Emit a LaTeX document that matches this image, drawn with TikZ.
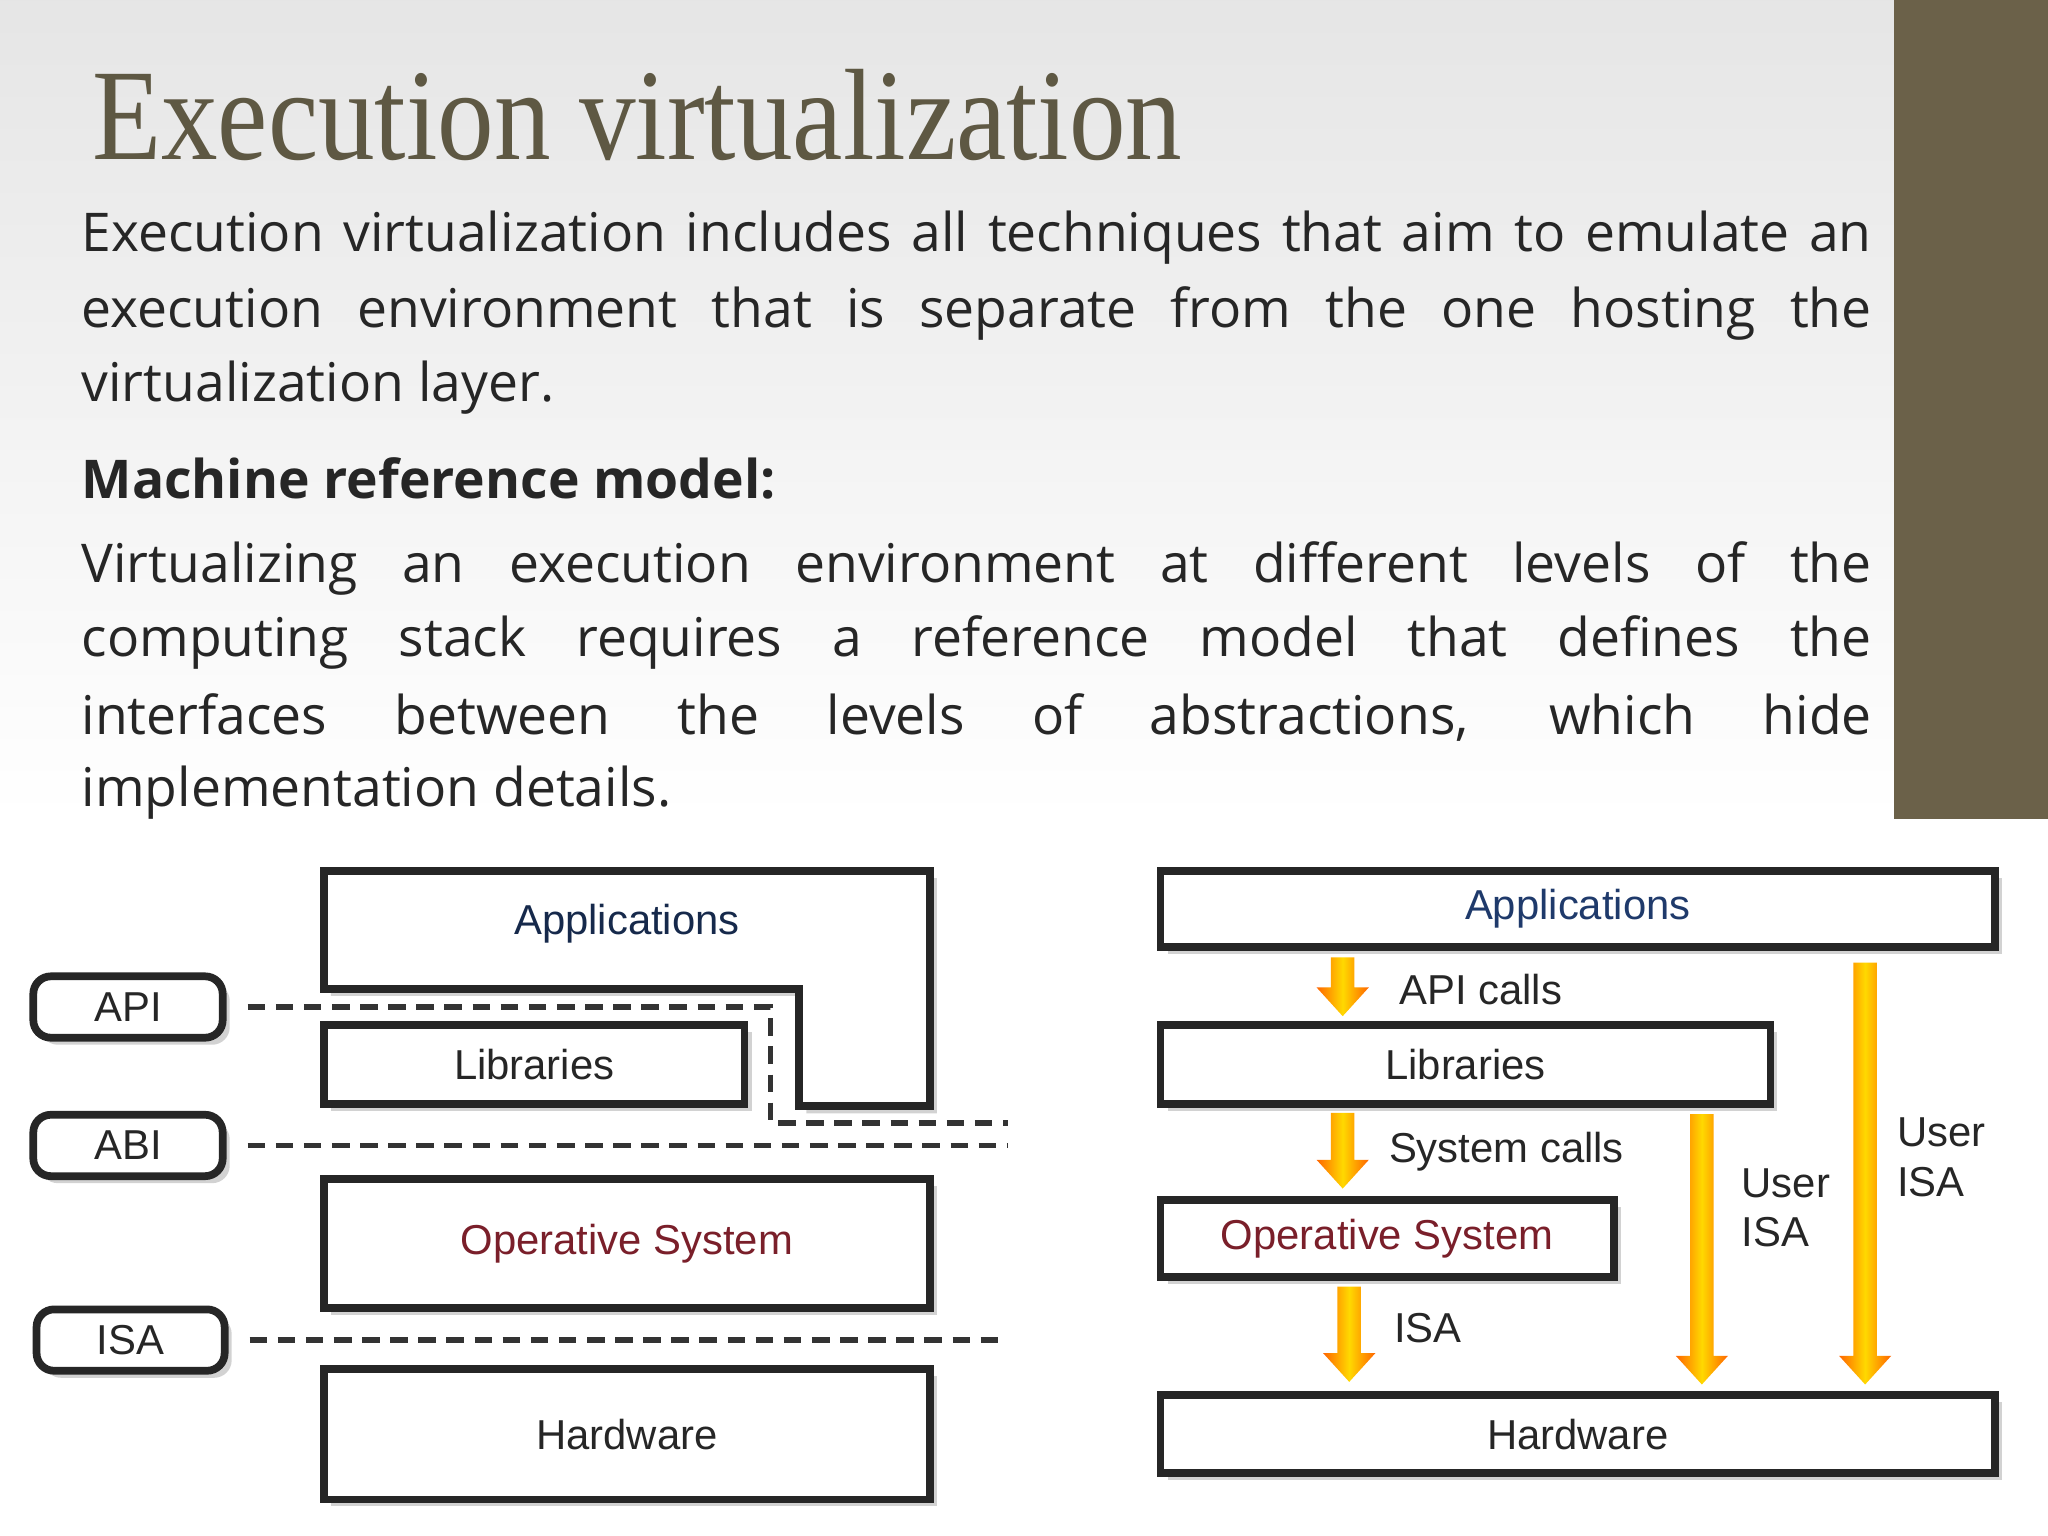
\documentclass[tikz,border=0pt]{standalone}
\usepackage{fontspec}
\setmainfont{Open Sans}
\newfontfamily\titlefont{Liberation Serif}
\newfontfamily\diafont{Liberation Sans}
\usetikzlibrary{shadows}
\definecolor{olive}{HTML}{5E5843}
\definecolor{barc}{HTML}{6B6149}
\definecolor{appblue}{HTML}{1F3A6B}
\definecolor{osred}{HTML}{7A1F2A}
\tikzset{
 lbox/.style={draw=black!85,line width=2.2pt,drop shadow={shadow xshift=2pt,shadow yshift=-2pt,opacity=0.35}},
 tag/.style={draw=black!85,line width=2.2pt,rounded corners=5pt,fill=white,drop shadow={shadow xshift=2pt,shadow yshift=-2pt,opacity=0.35}},
 dtext/.style={font=\diafont\fontsize{11.9}{14}\selectfont,text=black!85},
 dashline/.style={line width=1.6pt,black!80,dash pattern=on 5pt off 3pt},
 oarrow/.style={left color=orange!80!red,right color=orange!80!red,middle color=yellow!70!orange},
 body/.style={anchor=west,font=\fontsize{15.2}{20}\selectfont,text=black!85,inner sep=0pt}
}
\newcommand{\oarr}[3]{% x, ytop, ybottom
 \shade[oarrow] (#1-9,#2) -- (#1+9,#2) -- (#1+9,#3-22) -- (#1+20,#3-22) -- (#1,#3) -- (#1-20,#3-22) -- (#1-9,#3-22) -- cycle;}
\begin{document}
\begin{tikzpicture}[x=0.013061cm,y=-0.013061cm]
\useasboundingbox (0,0) rectangle (1568,1176);
\shade[top color=black!10,bottom color=white] (0,0) rectangle (1450,627);
\fill[white] (0,627) rectangle (1568,1176);
\fill[barc] (1450,0) rectangle (1568,627);
\node[anchor=west,inner sep=0pt,text=olive] (title) at (70,88) {\scalebox{0.87}[1]{\titlefont\fontsize{37}{40}\selectfont Execution virtualization}};
\node[body] (l1) at (62,182) {\makebox[17.9cm][s]{Execution virtualization includes all techniques that aim to emulate an}};
\node[body] (l2) at (62,240) {\makebox[17.9cm][s]{execution environment that is separate from the one hosting the}};
\node[body] (l3) at (62,297) {virtualization layer.};
\node[body,font=\bfseries\fontsize{15.2}{20}\selectfont] (h) at (62,366) {Machine reference model:};
\node[body] (p1) at (62,435) {\makebox[17.9cm][s]{Virtualizing an execution environment at different levels of the}};
\node[body] (p2) at (62,492) {\makebox[17.9cm][s]{computing stack requires a reference model that defines the}};
\node[body] (p3) at (62,549) {\makebox[17.9cm][s]{interfaces between the levels of abstractions, which hide}};
\node[body] (p4) at (62,607) {implementation details.};
% left diagram
\draw[lbox,fill=white] (248,667) -- (712,667) -- (712,847) -- (612,847) -- (612,757) -- (248,757) -- cycle;
\node[dtext,text=appblue!70!black] (lapp) at (480,707) {Applications};
\node[lbox,minimum width=322*0.013061cm,minimum height=60*0.013061cm,dtext,fill=white] (llib) at (409,815) {Libraries};
\node[lbox,minimum width=464*0.013061cm,minimum height=99*0.013061cm,dtext,fill=white,text=osred] (los) at (480,952) {Operative System};
\node[lbox,minimum width=464*0.013061cm,minimum height=100*0.013061cm,dtext,fill=white] (lhw) at (480,1098) {Hardware};
\node[tag,minimum width=145*0.013061cm,minimum height=47*0.013061cm,dtext] (api) at (98,771) {API};
\node[tag,minimum width=145*0.013061cm,minimum height=47*0.013061cm,dtext] (abi) at (98,877) {ABI};
\node[tag,minimum width=144*0.013061cm,minimum height=47*0.013061cm,dtext] (isa) at (100,1026) {ISA};
\coordinate (e1) at (772,860); \coordinate (e2) at (772,877); \coordinate (e3) at (772,1026);
\draw[dashline] ([xshift=6pt]api.east) -- (590,771) -- (590,860) -- (e1);
\draw[dashline] ([xshift=6pt]abi.east) -- (e2);
\draw[dashline] ([xshift=6pt]isa.east) -- (e3);
% right diagram
\node[lbox,minimum width=639*0.013061cm,minimum height=58*0.013061cm,dtext,fill=white,text=appblue] (rapp) at (1208,696) {Applications};
\node[lbox,minimum width=467*0.013061cm,minimum height=60*0.013061cm,dtext,fill=white] (rlib) at (1122,815) {Libraries};
\node[lbox,minimum width=347*0.013061cm,minimum height=59*0.013061cm,dtext,fill=white,text=osred] (ros) at (1062,948) {Operative System};
\node[lbox,minimum width=639*0.013061cm,minimum height=60*0.013061cm,dtext,fill=white] (rhw) at (1208,1098) {Hardware};
\oarr{1028}{733}{778}
\oarr{1028}{852}{910}
\oarr{1033}{985}{1058}
\oarr{1303}{853}{1060}
\oarr{1428}{737}{1060}
\node[dtext,anchor=west] (t1) at (1062,758) {API calls};
\node[dtext,anchor=west] (t2) at (1054,882) {System calls};
\node[dtext,anchor=west] (t3) at (1058,1017) {ISA};
\node[dtext,anchor=west,align=left,inner sep=0pt] (t4) at (1333,925) {User\\ISA};
\node[dtext,anchor=west,align=left,inner sep=0pt] (t5) at (1452,886) {User\\ISA};
\end{tikzpicture}
\end{document}
